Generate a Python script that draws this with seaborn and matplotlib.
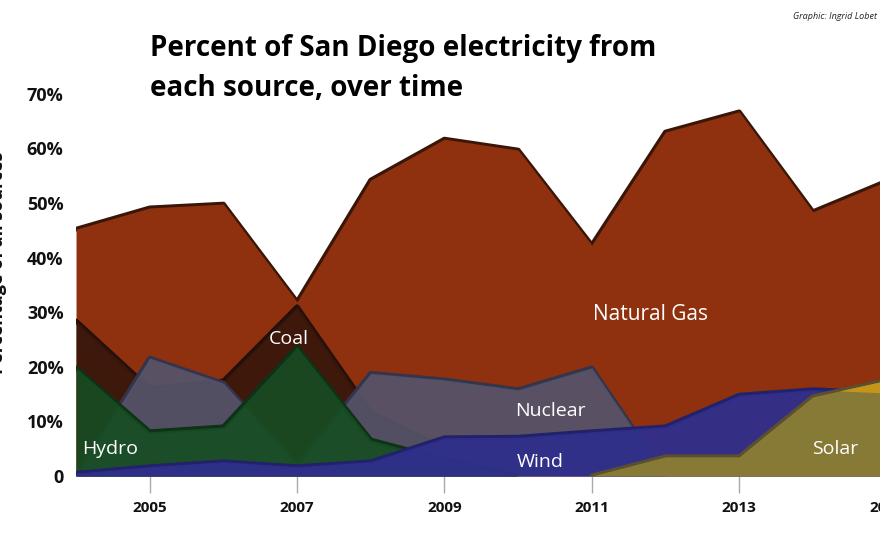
import numpy as np
import pandas as pd
import matplotlib.pyplot as plt
import seaborn as sns

# percent of San Diego electricity by source
years = [2004, 2005, 2006, 2007, 2008, 2009, 2010, 2011, 2012, 2013, 2014, 2015]
gas = [45.2, 49.1, 49.8, 31.9, 54.2, 61.7, 59.7, 42.3, 63.0, 66.7, 48.4, 54.0]
coal = [28.4, 16.0, 17.4, 31.0, 11.7, 5.0, 0.0, np.nan, np.nan, np.nan, np.nan, np.nan]
nuclear = [0.0, 21.6, 17.0, 2.0, 18.8, 17.6, 15.8, 19.8, 0.0, np.nan, np.nan, np.nan]
hydro = [19.8, 8.1, 9.0, 23.6, 6.6, 3.0, 0.0, np.nan, np.nan, np.nan, np.nan, np.nan]
wind = [0.5, 1.7, 2.6, 1.7, 2.6, 7.0, 7.1, 8.1, 9.0, 14.8, 15.8, 15.2]
solar = [np.nan, np.nan, np.nan, np.nan, np.nan, np.nan, np.nan, 0.0, 3.5, 3.5, 14.5, 17.5]

ytick_vals = [0, 10, 20, 30, 40, 50, 60, 70]
ytick_labels = ['0', '10%', '20%', '30%', '40%', '50%', '60%', '70%']
xtick_vals = [2005, 2007, 2009, 2011, 2013, 2015]

df = pd.DataFrame({'year': years, 'Natural Gas': gas, 'Coal': coal,
                   'Nuclear': nuclear, 'Hydro': hydro, 'Wind': wind, 'Solar': solar})

sns.set_theme(style='white')
plt.rcParams['font.family'] = ['Open Sans', 'DejaVu Sans']

fig = plt.figure(figsize=(8.8, 5.42), dpi=100)
ax = fig.add_axes([0.0864, 0.1218, 0.921, 0.7675])

# back to front, each with its own darker rim on top
layers = [
    ('Natural Gas', '#8f300e', '#3a1608', 1.0),
    ('Coal', '#3a170a', '#24100a', 0.95),
    ('Nuclear', '#55546a', '#35344a', 0.93),
    ('Hydro', '#164d23', '#0d3217', 0.9),
    ('Wind', '#2f2f8c', '#22226a', 0.95),
    ('Solar', '#877a36', '#5a5030', 1.0),
]
for name, col, edge, a in layers:
    sub = df[['year', name]].dropna()
    sns.lineplot(data=sub, x='year', y=name, ax=ax, color=edge, lw=3.5, zorder=2)
    ax.fill_between(sub['year'], 0, sub[name], color=col, alpha=a, lw=0, zorder=2)

# the part of solar that rises above wind
sw = df[['year', 'Wind', 'Solar']].dropna()
ax.fill_between(sw['year'], sw['Wind'], sw['Solar'], where=sw['Solar'] > sw['Wind'],
                interpolate=True, color='#c4951a', lw=0, zorder=3)

ax.set_xlim(2004, 2015)
ax.set_ylim(0, 76.2)
ax.set_xticks(xtick_vals)
ax.set_xticklabels([str(y) for y in xtick_vals], fontsize=11, fontweight='bold', color='#111111')
ax.set_yticks(ytick_vals)
ax.set_yticklabels(ytick_labels, fontsize=13, fontweight='bold', color='#111111')
ax.tick_params(axis='x', length=12, width=1, color='#aaaaaa', pad=6, bottom=True)
ax.tick_params(axis='y', length=0, pad=9)
ax.set_xlabel('')
ax.set_ylabel('')
sns.despine(ax=ax, left=True, bottom=True)

labels = [('Hydro', 2004.46, 4.9, 14), ('Coal', 2006.89, 25.1, 14), ('Nuclear', 2010.44, 11.9, 14),
          ('Wind', 2010.30, 2.6, 14), ('Natural Gas', 2011.80, 29.5, 15), ('Solar', 2014.31, 4.9, 14)]
for txt, lx, ly, fs in labels:
    ax.text(lx, ly, txt, color='white', fontsize=fs, ha='center', va='center', zorder=5)

fig.text(0.17, 0.874, 'Percent of San Diego electricity from\neach source, over time',
         fontsize=20, fontweight='bold', ha='left', va='center', linespacing=1.5, color='black')
fig.text(0.997, 0.97, 'Graphic: Ingrid Lobet', fontsize=6.5, style='italic',
         ha='right', va='center', color='#222222')
fig.text(-0.002, 0.515, 'Percentage of all sources', fontsize=13, fontweight='bold',
         rotation=90, ha='center', va='center', color='#111111')

fig.savefig('out.png', dpi=100)
